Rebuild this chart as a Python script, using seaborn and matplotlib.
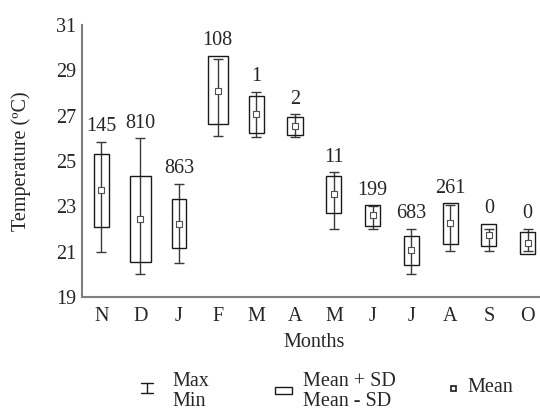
import matplotlib
matplotlib.use("Agg")
import matplotlib.pyplot as plt
import seaborn as sns
import pandas as pd
from matplotlib.lines import Line2D
from matplotlib.patches import Rectangle

months = ["Nov", "Dec", "Jan", "Feb", "Mar", "Apr", "May", "Jun", "Jul", "Aug", "Sep", "Oct"]
month_labels = ["N", "D", "J", "F", "M", "A", "M", "J", "J", "A", "S", "O"]
t_max = [25.85, 26.0, 24.0, 29.5, 28.05, 27.05, 24.5, 23.0, 22.0, 23.05, 22.0, 22.0]
t_min = [21.0, 20.0, 20.5, 26.1, 26.05, 26.05, 22.0, 22.0, 20.0, 21.03, 21.03, 21.03]
sd_hi = [25.3, 24.35, 23.3, 29.65, 27.85, 26.95, 24.35, 23.05, 21.7, 23.13, 22.23, 21.85]
sd_lo = [22.1, 20.55, 21.15, 26.65, 26.25, 26.15, 22.7, 22.15, 20.4, 21.32, 21.25, 20.9]
t_mean = [23.7, 22.45, 22.2, 28.1, 27.05, 26.55, 23.55, 22.6, 21.05, 22.25, 21.73, 21.4]
counts = ["145", "810", "863", "108", "1", "2", "11", "199", "683", "261", "0", "0"]
y_ticks = [19, 21, 23, 25, 27, 29, 31]

box_widths = [0.38, 0.55, 0.38, 0.52, 0.39, 0.4, 0.39, 0.39, 0.39, 0.39, 0.39, 0.38]

df = pd.DataFrame({"month": months, "mean": t_mean, "max": t_max, "min": t_min,
                   "hi": sd_hi, "lo": sd_lo, "n": counts})

sns.set_style("white")
plt.rcParams["font.family"] = ["Liberation Serif", "DejaVu Serif"]
axis_gray = "#7f7f7f"
fs = 14.5

fig = plt.figure(figsize=(5.4, 4.09), dpi=100)
ax = fig.add_axes([0.152, 0.274, 0.861, 0.665])

pos = list(range(len(df)))
# whiskers (min-max)
ax.vlines(pos, df["min"], df["max"], color="#3a3a3a", lw=1.0, zorder=2)
ax.hlines(df["max"], [p - 0.13 for p in pos], [p + 0.13 for p in pos], color="#3a3a3a", lw=1.0, zorder=2)
ax.hlines(df["min"], [p - 0.13 for p in pos], [p + 0.13 for p in pos], color="#3a3a3a", lw=1.0, zorder=2)
# mean +/- SD boxes
ax.bar(pos, df["hi"] - df["lo"], bottom=df["lo"], width=box_widths, fill=False,
       edgecolor="#1a1a1a", lw=1.0, zorder=3)
# means
sns.scatterplot(data=df, x="month", y="mean", marker="s", s=16, color="white",
                edgecolor="#505050", linewidth=0.8, zorder=4, ax=ax, legend=False)

for i, row in df.iterrows():
    top = max(row["max"], row["hi"])
    ax.annotate(row["n"], (i, top), xytext=(0, 4), textcoords="offset points",
                ha="center", va="bottom", fontsize=fs)

ax.set_xlim(-0.5, 11.5)
ax.set_ylim(19, 31)
ax.set_yticks(y_ticks)
ax.set_xticks(pos)
ax.set_xticklabels(month_labels)
ax.set_xticks([p + 0.5 for p in pos], minor=True)
ax.tick_params(axis="x", which="major", length=0, labelsize=fs, pad=7)
ax.tick_params(axis="x", which="minor", direction="in", length=3, color=axis_gray, width=1)
ax.tick_params(axis="y", direction="in", length=3, color=axis_gray, width=1, labelsize=fs, pad=4)
for s in ["top", "right"]:
    ax.spines[s].set_visible(False)
for s in ["left", "bottom"]:
    ax.spines[s].set_color(axis_gray)
    ax.spines[s].set_linewidth(1.5)
ax.set_xlabel("Months", fontsize=fs, labelpad=5)
ax.set_ylabel("Temperature (ºC)", fontsize=fs, labelpad=18)

# legend drawn underneath, in pixel coordinates of the figure
lg = fig.add_axes([0, 0, 1, 1], facecolor="none")
lg.set_xlim(0, 540)
lg.set_ylim(409, 0)
lg.axis("off")
c = "#1a1a1a"
lg.add_line(Line2D([147, 147], [383, 393], color=c, lw=1))
lg.add_line(Line2D([141, 153], [383, 383], color=c, lw=1))
lg.add_line(Line2D([141, 153], [393, 393], color=c, lw=1))
lg.text(172, 381, "Max", fontsize=fs, va="center", ha="left")
lg.text(172, 401, "Min", fontsize=fs, va="center", ha="left")
lg.add_patch(Rectangle((275, 387), 17, 7, fill=False, edgecolor=c, lw=1))
lg.text(303, 381, "Mean + SD", fontsize=fs, va="center", ha="left")
lg.text(303, 401, "Mean - SD", fontsize=fs, va="center", ha="left")
lg.add_patch(Rectangle((451, 386), 5, 5, facecolor="white", edgecolor=c, lw=1.2))
lg.text(467, 388, "Mean", fontsize=fs, va="center", ha="left")

fig.savefig("out.png", dpi=100)
